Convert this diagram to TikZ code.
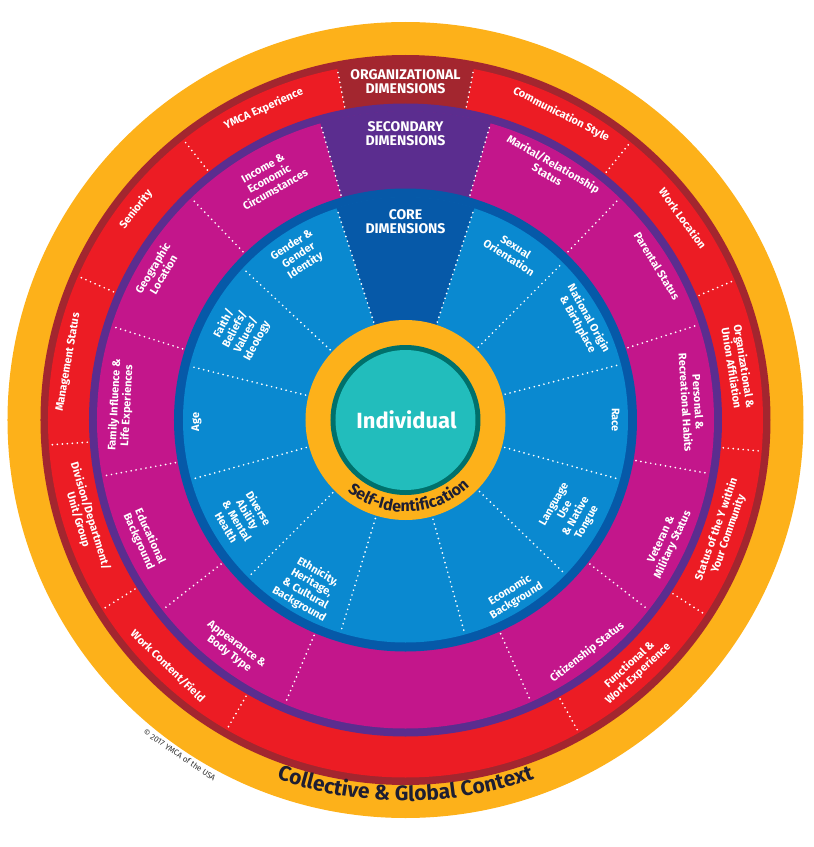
\documentclass[tikz,border=0pt]{standalone}
\usepackage{fontspec}
\setmainfont{Fira Sans}
\usetikzlibrary{decorations.text}
\definecolor{cOrange}{HTML}{FDB11A}
\definecolor{cMaroon}{HTML}{A3262F}
\definecolor{cRed}{HTML}{EC1C24}
\definecolor{cPurple}{HTML}{5B2D8F}
\definecolor{cMagenta}{HTML}{C3168B}
\definecolor{cDBlue}{HTML}{0659A8}
\definecolor{cLBlue}{HTML}{0A89D0}
\definecolor{cTeal}{HTML}{22BDBC}
\definecolor{cDTeal}{HTML}{00706B}
\definecolor{cInk}{HTML}{1E1E32}
\newcommand\ringsector[5]{\fill[#1] (#2:#4pt) arc[start angle=#2, end angle=#3, radius=#4pt] -- (#3:#5pt) arc[start angle=#3, end angle=#2, radius=#5pt] -- cycle;}
\begin{document}
\begin{tikzpicture}[x=1pt,y=1pt,
  dotline/.style={draw=white, line width=1.9pt, dash pattern=on 0pt off 5pt, line cap=round},
  lab/.style={text=white, font=\bfseries\fontsize{11}{12.5}\selectfont, align=center, inner sep=0pt},
  hdr/.style={text=white, font=\bfseries\fontsize{14}{14}\selectfont, align=center, inner sep=0pt}]
\useasboundingbox (-405.5,-427) rectangle (408.5,420);
% rings
\fill[cOrange] (0,0) circle[radius=398pt];
\fill[cMaroon] (0,0) circle[radius=365pt];
\fill[cRed] (0,0) circle[radius=357.5pt];
\ringsector{cMaroon}{79}{101}{316}{358}
\fill[cPurple] (0,0) circle[radius=316.5pt];
\fill[cMagenta] (0,0) circle[radius=308.5pt];
\ringsector{cPurple}{74}{106}{231}{309}
\fill[cDBlue] (0,0) circle[radius=231.5pt];
\fill[cLBlue] (0,0) circle[radius=222.5pt];
\ringsector{cDBlue}{72}{108}{99}{223}
\fill[cOrange] (0,0) circle[radius=100pt];
\fill[cDTeal] (0,0) circle[radius=75pt];
\fill[cTeal] (0,0) circle[radius=70pt];
% dividers
\foreach \a in {101,79,51,23,-5,-33,-61,-120,-148,-176,156.3,128.4}
  \draw[dotline] (\a:319pt) -- (\a:356pt);
\foreach \a in {106,74,46,18,-10,-38,-66,-113,-142,-169.5,162.3,134}
  \draw[dotline] (\a:234pt) -- (\a:306pt);
\foreach \a in {108,72,45,14.5,-15.5,-44,-74.5,-107,-135,-164.5,166,137}
  \draw[dotline] (\a:103pt) -- (\a:220pt);
% centre
\node[text=white, font=\bfseries\fontsize{22}{24}\selectfont, inner sep=0pt] (indiv) at (1,0) {Individual};
\path[decorate, decoration={text along path, text align=center, text color=cInk,
  text={|\bfseries\fontsize{16}{16}\selectfont|Self-Identification}}]
  (-138:92pt) arc[start angle=-138, end angle=-37, radius=92pt];
\path[decorate, decoration={text along path, text align=center, text color=cInk,
  text={|\bfseries\fontsize{21}{21}\selectfont|Collective {\&} Global Context}}]
  (-116:381pt) arc[start angle=-116, end angle=-64, radius=381pt];
\node[text=black!80, font=\fontsize{8}{8}\selectfont, rotate=-34, inner sep=0pt] (copy) at (-124:404pt) {\textcopyright\ 2017 YMCA of the USA};
% headers
\node[hdr] (org) at (90:338pt) {ORGANIZATIONAL\\DIMENSIONS};
\node[hdr] (sec) at (90:286pt) {SECONDARY\\DIMENSIONS};
\node[hdr] (core) at (90:198pt) {CORE\\DIMENSIONS};
% organizational ring
\node[lab, rotate=24.5] (o1) at (114.5:342pt) {YMCA Experience};
\node[lab, rotate=52] (o2) at (142:342pt) {Seniority};
\node[lab, rotate=80.3] (o3) at (170.3:342pt) {Management Status};
\node[lab, rotate=-73] (o4) at (-163:336pt) {Division/Department/\\Unit/Group};
\node[lab, rotate=-44] (o5) at (-134:342pt) {Work Content/Field};
\node[lab, rotate=42.5] (o6) at (-47.5:338pt) {Functional \&\\Work Experience};
\node[lab, rotate=70.6] (o7) at (-19.4:336pt) {Status of the Y within\\Your Community};
\node[lab, rotate=-81] (o8) at (9:337pt) {Organizational \&\\Union Affiliation};
\node[lab, rotate=-54] (o9) at (36:343pt) {Work Location};
\node[lab, rotate=-27] (o10) at (63:343pt) {Communication Style};
% secondary ring
\node[lab, rotate=29.5] (s1) at (119.5:277pt) {Income \&\\Economic\\Circumstances};
\node[lab, rotate=59] (s2) at (149:289pt) {Geographic\\Location};
\node[lab, rotate=87] (s3) at (177:285pt) {Family Influence \&\\Life Experiences};
\node[lab, rotate=-65.5] (s4) at (-155.5:287pt) {Educational\\Background};
\node[lab, rotate=-37] (s5) at (-127:287pt) {Appearance \&\\Body Type};
\node[lab, rotate=38] (s6) at (-52:295pt) {Citizenship Status};
\node[lab, rotate=65] (s7) at (-25:289pt) {Veteran \&\\Military Status};
\node[lab, rotate=-86.5] (s8) at (3.5:287pt) {Personal \&\\Recreational Habits};
\node[lab, rotate=-58.5] (s9) at (31.5:295pt) {Parental Status};
\node[lab, rotate=-30] (s10) at (60:290pt) {Marital/Relationship\\Status};
% core ring
\node[lab, rotate=33] (c1) at (123:196pt) {Gender \&\\Gender\\Identity};
\node[lab, rotate=62] (c2) at (152:187pt) {Faith/\\Beliefs/\\Values/\\Ideology};
\node[lab, rotate=90] (c3) at (180.5:209pt) {Age};
\node[lab, rotate=-59] (c4) at (-149:190pt) {Diverse\\Ability\\\& Mental\\Health};
\node[lab, rotate=-30] (c5) at (-120:194pt) {Ethnicity,\\Heritage,\\\& Cultural\\Background};
\node[lab, rotate=31.5] (c6) at (-58.5:206pt) {Economic\\Background};
\node[lab, rotate=60.5] (c7) at (-29.5:190pt) {Language\\Use\\\& Native\\Tongue};
\node[lab, rotate=-90] (c8) at (0:210pt) {Race};
\node[lab, rotate=-61] (c9) at (29:203pt) {National Origin\\\& Birthplace};
\node[lab, rotate=-32.5] (c10) at (57.5:199pt) {Sexual\\Orientation};
\end{tikzpicture}
\end{document}
